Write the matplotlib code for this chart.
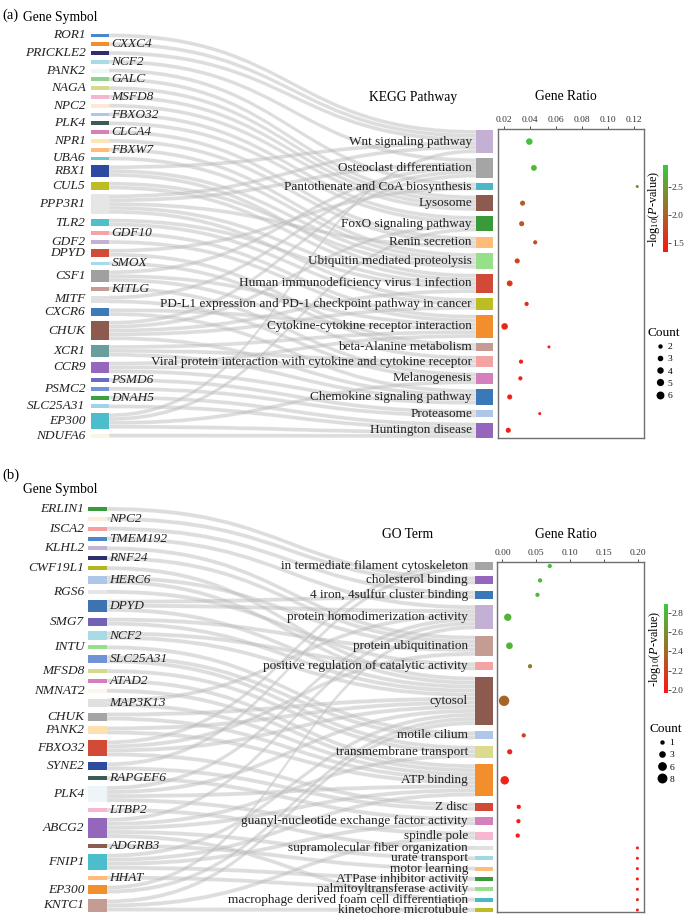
import numpy as np
import matplotlib
matplotlib.use('Agg')
import matplotlib.pyplot as plt
from matplotlib.path import Path
from matplotlib.patches import PathPatch, Rectangle
from matplotlib.colors import LinearSegmentedColormap, Normalize
from matplotlib.cm import ScalarMappable
from matplotlib.lines import Line2D
from matplotlib.ticker import FormatStrFormatter

plt.rcParams['font.family'] = ['Liberation Serif', 'DejaVu Serif']
plt.rcParams['mathtext.fontset'] = 'custom'
plt.rcParams['mathtext.rm'] = 'Liberation Serif'
plt.rcParams['mathtext.it'] = 'Liberation Serif:italic'

# ---------------- panel (a): KEGG ----------------
genes_a = ["ROR1", "CXXC4", "PRICKLE2", "NCF2", "PANK2", "GALC", "NAGA", "MSFD8",
           "NPC2", "FBXO32", "PLK4", "CLCA4", "NPR1", "FBXW7", "UBA6", "RBX1", "CUL5",
           "PPP3R1", "TLR2", "GDF10", "GDF2", "DPYD", "SMOX", "CSF1", "KITLG", "MITF",
           "CXCR6", "CHUK", "XCR1", "CCR9", "PSMD6", "PSMC2", "DNAH5", "SLC25A31",
           "EP300", "NDUFA6"]
gene_side_a = "LRLRLRLRLRLRLRLLLLLRLLRLRLLLLLRLRLLL"
gene_colors_a = ["#4a86c8", "#f28e2b", "#2e2e6e", "#a8dbe3", "#eef7f7", "#8fd18f", "#d4d98c",
                 "#f4b6d2", "#fbe9d6", "#aec7e8", "#3d5a57", "#d77fb8", "#fde5b8", "#ffbb78",
                 "#6cc7d3", "#2c4aa0", "#bcbd22", "#e6e6e6", "#4fc0c8", "#f4a4a4", "#c5b0d5",
                 "#d24b36", "#a8dbe8", "#a0a0a0", "#c49c94", "#e0e0e0", "#3d7ab8", "#8c5a4f",
                 "#6a9e9c", "#9467bd", "#6a6ac0", "#6f93d6", "#3aa040", "#9fd3ea", "#4cbecb",
                 "#fdf3e3"]
pathways_a = ["Wnt signaling pathway", "Osteoclast differentiation",
              "Pantothenate and CoA biosynthesis", "Lysosome", "FoxO signaling pathway",
              "Renin secretion", "Ubiquitin mediated proteolysis",
              "Human immunodeficiency virus 1 infection",
              "PD-L1 expression and PD-1 checkpoint pathway in cancer",
              "Cytokine-cytokine receptor interaction", "beta-Alanine metabolism",
              "Viral protein interaction with cytokine and cytokine receptor",
              "Melanogenesis", "Chemokine signaling pathway", "Proteasome", "Huntington disease"]
pathway_colors_a = ["#c5b0d5", "#a5a5a5", "#4ab8c8", "#8c5a4f", "#3a9a3a", "#ffbb78",
                    "#98df8a", "#d04a37", "#bcbd22", "#f28e2b", "#c49c94", "#f4a3a3",
                    "#d67fbd", "#3a78b8", "#aec7e8", "#9467bd"]
# gene -> pathway indices
gene_links_a = [[0], [0], [0], [1], [2], [3], [3], [3], [3], [4], [4], [5], [5], [6], [6],
                [0, 6, 7], [6, 7], [0, 1, 5, 7, 8], [7, 8], [9], [9], [2, 10], [10],
                [1, 9, 11], [12], [1, 12], [9, 13], [1, 4, 7, 8, 13], [9, 11, 13],
                [9, 11, 13], [14], [14], [15], [15], [0, 4, 12, 15], [15]]
ratio_a = [0.0395, 0.043, 0.1225, 0.0343, 0.0336, 0.044, 0.0302, 0.0244, 0.0374, 0.0205,
           0.0546, 0.0331, 0.0326, 0.0244, 0.0475, 0.0233]
logp_a = [2.85, 2.75, 2.3, 1.95, 1.9, 1.8, 1.75, 1.65, 1.5, 1.5, 1.4, 1.45, 1.45, 1.45,
          1.4, 1.4]
xticks_a = [0.02, 0.04, 0.06, 0.08, 0.10, 0.12]
cbar_ticks_a = [1.5, 2.0, 2.5]
count_legend_a = [2, 3, 4, 5, 6]

# ---------------- panel (b): GO ----------------
genes_b = ["ERLIN1", "NPC2", "ISCA2", "TMEM192", "KLHL2", "RNF24", "CWF19L1", "HERC6", "RGS6",
           "DPYD", "SMG7", "NCF2", "INTU", "SLC25A31", "MFSD8", "ATAD2", "NMNAT2", "MAP3K13",
           "CHUK", "PANK2", "FBXO32", "SYNE2", "RAPGEF6", "PLK4", "LTBP2", "ABCG2", "ADGRB3",
           "FNIP1", "HHAT", "EP300", "KNTC1"]
gene_side_b = "LRLRLRLRLRLRLRLRLRLLLLRLRLRLRLL"
gene_colors_b = ["#3a9a3a", "#fbeede", "#f4a0a0", "#4a86c8", "#c5b0d5", "#2e2e6e", "#b5b520",
                 "#aec7e8", "#e6e6e6", "#3d73b0", "#7262b5", "#a8dbe3", "#98df8a", "#6f93d6",
                 "#d4d98c", "#d77fb8", "#fdf6ec", "#e0e0e0", "#a5a5a5", "#fde0b0", "#d24b36",
                 "#2c4aa0", "#3d5a57", "#eef5f8", "#f4b6d2", "#9467bd", "#8c5a4f", "#4cbecb",
                 "#ffbb78", "#f28e2b", "#c49c94"]
terms_b = ["in termediate filament cytoskeleton", "cholesterol binding",
           "4 iron, 4sulfur cluster binding", "protein homodimerization activity",
           "protein ubiquitination", "positive regulation of catalytic activity", "cytosol",
           "motile cilium", "transmembrane transport", "ATP binding", "Z disc",
           "guanyl-nucleotide exchange factor activity", "spindle pole",
           "supramolecular fiber organization", "urate transport", "motor learning",
           "ATPase inhibitor activity", "palmitoyltransferase activity",
           "macrophage derived foam cell differentiation", "kinetochore microtubule"]
term_colors_b = ["#a5a5a5", "#9467bd", "#3a78b8", "#c5b0d5", "#c49c94", "#f4a3a3", "#8c5a4f",
                 "#aec7e8", "#dbdb8d", "#f28e2b", "#d04a37", "#d67fbd", "#f7b6d2", "#e0e0e0",
                 "#9edae5", "#ffbb78", "#3a9a3a", "#98df8a", "#4ab8c8", "#bcbd22"]
gene_links_b = [[1], [1], [2], [3], [4], [4], [6], [4, 6], [5], [2, 3, 6], [4, 6], [5, 6],
                [7], [7, 8], [8], [9], [9], [3, 9], [6, 9], [6, 9], [0, 4, 6, 10], [0, 10],
                [11], [3, 6, 9, 12], [13], [3, 8, 9, 14, 18], [15], [6, 9, 11, 16], [17],
                [3, 6], [6, 12, 19]]
ratio_b = [0.0696, 0.0553, 0.0515, 0.0078, 0.0103, 0.0406, 0.0024, 0.0313, 0.0107, 0.0034,
           0.024, 0.0235, 0.0225, 0.1985, 0.1985, 0.1985, 0.1985, 0.1985, 0.1985, 0.1985]
logp_b = [2.85, 2.82, 2.82, 2.78, 2.78, 2.5, 2.38, 2.2, 2.05, 2.05, 2.0, 2.0, 2.0, 2.0, 2.0,
          2.0, 2.0, 2.0, 2.0, 2.0]
xticks_b = [0.00, 0.05, 0.10, 0.15, 0.20]
cbar_ticks_b = [2.0, 2.2, 2.4, 2.6, 2.8]
count_legend_b = [1, 3, 6, 8]

W, H = 685, 918
cmap = LinearSegmentedColormap.from_list('rg', ['#ff1414', '#3cc83c'])
fig = plt.figure(figsize=(W / 100, H / 100), dpi=100)
ax0 = fig.add_axes([0, 0, 1, 1])
ax0.set_xlim(0, W)
ax0.set_ylim(H, 0)
ax0.axis('off')


def frect(x0, y0, x1, y1):
    return [x0 / W, 1 - y1 / H, (x1 - x0) / W, (y1 - y0) / H]


def stack(counts, top, bottom, unit):
    counts = np.asarray(counts)
    gap = (bottom - top - counts.sum() * unit) / (len(counts) - 1)
    return top + np.concatenate([[0], np.cumsum(counts[:-1] * unit + gap)])


def ribbon(x0, x1, y0, y1, w):
    xm = (x0 + x1) / 2
    verts = [(x0, y0), (xm, y0), (xm, y1), (x1, y1), (x1, y1 + w), (xm, y1 + w),
             (xm, y0 + w), (x0, y0 + w), (x0, y0)]
    codes = [Path.MOVETO, Path.CURVE4, Path.CURVE4, Path.CURVE4, Path.LINETO,
             Path.CURVE4, Path.CURVE4, Path.CURVE4, Path.CLOSEPOLY]
    ax0.add_patch(PathPatch(Path(verts, codes), fc='#bcbcbc', ec='white', lw=0.3,
                            alpha=0.5, zorder=1))


def sankey(genes, links, gcols, sides, terms, tcols, gx, tx, gspan, tspan, unit, lab_x,
           lpad):
    nt = len(terms)
    gcount = np.array([len(l) for l in links])
    tcount = np.zeros(nt, int)
    for l in links:
        for t in l:
            tcount[t] += 1
    gtop = stack(gcount, gspan[0], gspan[1], unit)
    ttop = stack(tcount, tspan[0], tspan[1], unit)
    gmid = gtop + gcount * unit / 2
    tmid = ttop + tcount * unit / 2
    pairs = [(g, t) for g, l in enumerate(links) for t in l]
    gofs, tofs = {}, {}
    for g, l in enumerate(links):
        for k, t in enumerate(sorted(l, key=lambda t: tmid[t])):
            gofs[(g, t)] = gtop[g] + k * unit
    for t in range(nt):
        src = sorted([g for g, tt in pairs if tt == t], key=lambda g: gmid[g])
        for k, g in enumerate(src):
            tofs[(g, t)] = ttop[t] + k * unit
    for g, t in pairs:
        ribbon(gx[1], tx[0], gofs[(g, t)], tofs[(g, t)], unit)
    for g, name in enumerate(genes):
        ax0.add_patch(Rectangle((gx[0], gtop[g]), gx[1] - gx[0], gcount[g] * unit,
                                fc=gcols[g], ec='none', zorder=2))
        if sides[g] == 'L':
            ax0.text(gx[0] - lpad, gmid[g], name, ha='right', va='center', fontsize=9.6,
                     style='italic', color='#222222', zorder=3)
        else:
            ax0.text(gx[1] + 2.5, gmid[g], name, ha='left', va='center', fontsize=9.6,
                     style='italic', color='#222222', zorder=3)
    for t, name in enumerate(terms):
        ax0.add_patch(Rectangle((tx[0], ttop[t]), tx[1] - tx[0], tcount[t] * unit,
                                fc=tcols[t], ec='none', zorder=2))
        ax0.text(lab_x, tmid[t], name, ha='right', va='center', fontsize=9.5,
                 color='#222222', zorder=3)
    return tmid, tcount


def dotplot(frame, ymid, x, p, counts, xlim, xticks, fmt, vlim, crange, srange,
            cb_rect, cb_ticks, leg_counts, leg_xy):
    ax = fig.add_axes(frect(*frame))
    ax.patch.set_alpha(0)
    ax.set_ylim(frame[3], frame[1])
    ax.set_xlim(xlim)
    s = np.interp(counts, crange, srange)
    ax.scatter(x, ymid, s=s, c=p, cmap=cmap, vmin=vlim[0], vmax=vlim[1],
               edgecolors='none', zorder=3, clip_on=False)
    ax.xaxis.tick_top()
    ax.set_xticks(xticks)
    ax.xaxis.set_major_formatter(FormatStrFormatter(fmt))
    ax.set_yticks([])
    ax.tick_params(axis='x', labelsize=6.8, length=2, width=0.6, pad=1.5,
                   colors='#333333')
    for sp in ax.spines.values():
        sp.set_color('#707070')
        sp.set_linewidth(1.0)
    cax = fig.add_axes(frect(*cb_rect))
    sm = ScalarMappable(norm=Normalize(*vlim), cmap=cmap)
    cb = fig.colorbar(sm, cax=cax, ticks=cb_ticks)
    cb.outline.set_visible(False)
    cb.ax.yaxis.set_major_formatter(FormatStrFormatter('%.1f'))
    cb.ax.tick_params(labelsize=6.8, length=2, width=0.6, pad=1, colors='#333333')
    cb.set_label('-log$_{10}$($P$-value)', fontsize=8.8, labelpad=1)
    cb.ax.yaxis.set_label_position('left')
    handles = [Line2D([], [], ls='none', marker='o', color='black',
                      markersize=np.sqrt(np.interp(c, crange, srange)))
               for c in leg_counts]
    fig.legend(handles, [str(c) for c in leg_counts], title='Count', loc='upper left',
               bbox_to_anchor=(leg_xy[0] / W, 1 - leg_xy[1] / H), frameon=False,
               fontsize=6.8, title_fontsize=9.5, handlelength=0.8, handletextpad=0.4,
               labelspacing=0.38, borderpad=0, borderaxespad=0)


# panel (a)
ymid_a, cnt_a = sankey(genes_a, gene_links_a, gene_colors_a, gene_side_a, pathways_a,
                       pathway_colors_a, (91, 109), (476, 493), (33.5, 437.5), (130, 438),
                       3.86, 472, 5.5)
dotplot((498, 129, 644, 438), ymid_a, ratio_a, logp_a, cnt_a, (0.0154, 0.1277), xticks_a,
        '%.2f', (1.34, 2.89), (2, 6), (4.7, 22), (663, 165, 667.5, 252), cbar_ticks_a,
        count_legend_a, (648, 327))
ax0.text(2, 15, '(a)', fontsize=10.5, va='center', ha='left')
ax0.text(23, 18, 'Gene Symbol', fontsize=9.8, va='center', ha='left')
ax0.text(413, 97, 'KEGG Pathway', fontsize=9.8, va='center', ha='center')
ax0.text(566, 97, 'Gene Ratio', fontsize=9.8, va='center', ha='center')

# panel (b)
ymid_b, cnt_b = sankey(genes_b, gene_links_b, gene_colors_b, gene_side_b, terms_b,
                       term_colors_b, (88, 107), (475, 493), (507, 911.5), (562, 912),
                       4.04, 468, 3.5)
dotplot((497, 562, 644, 912), ymid_b, ratio_b, logp_b, cnt_b, (-0.008, 0.2082), xticks_b,
        '%.2f', (1.97, 2.89), (1, 12), (4.7, 56), (664, 604, 667.5, 693), cbar_ticks_b,
        count_legend_b, (650, 723))
ax0.text(2, 475, '(b)', fontsize=10.5, va='center', ha='left')
ax0.text(23, 490, 'Gene Symbol', fontsize=9.8, va='center', ha='left')
ax0.text(408, 535, 'GO Term', fontsize=9.8, va='center', ha='center')
ax0.text(566, 535, 'Gene Ratio', fontsize=9.8, va='center', ha='center')

fig.savefig('out.png', dpi=100)
